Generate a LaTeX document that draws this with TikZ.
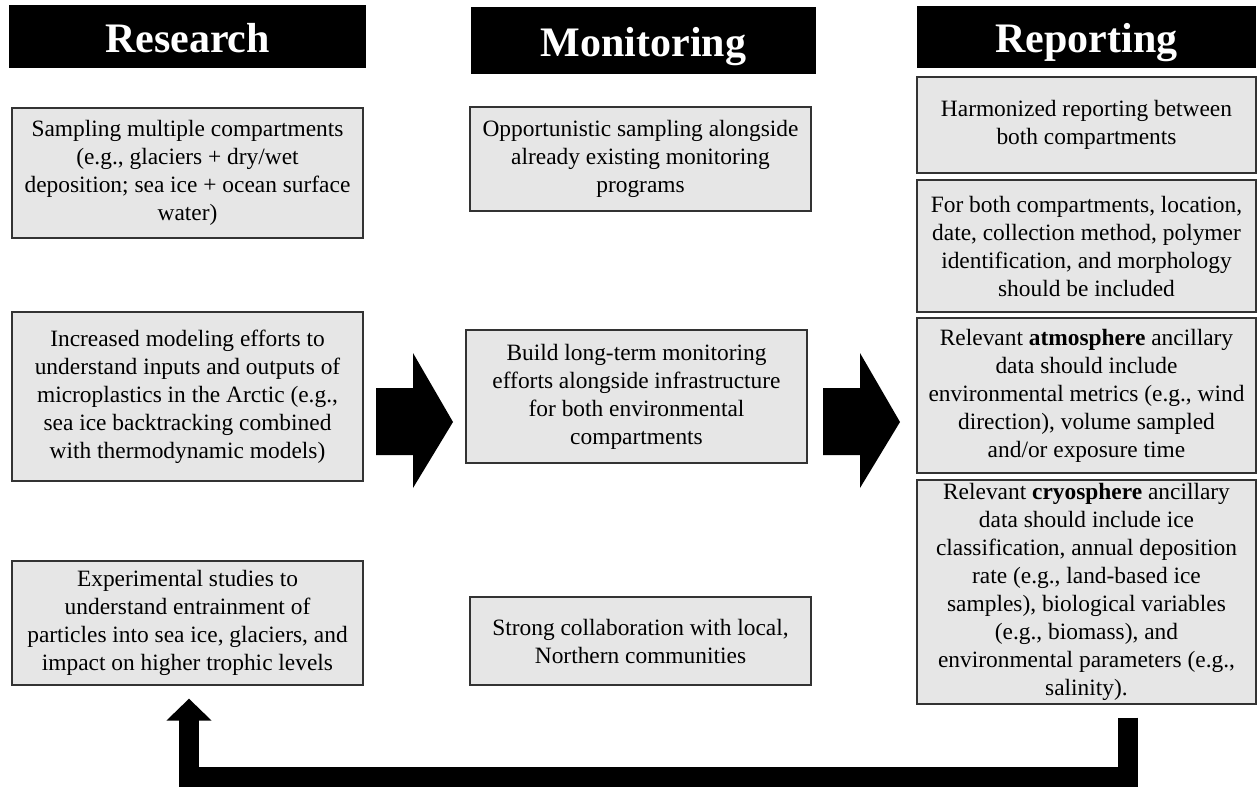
\documentclass[tikz,border=0pt]{standalone}
\usepackage{fontspec}
\setmainfont{Liberation Serif}
\usetikzlibrary{arrows.meta}
\definecolor{BoxGray}{HTML}{E6E6E6}
\definecolor{EdgeGray}{HTML}{333333}

\tikzset{
  header/.style={fill=black,text=white,inner sep=0pt,text height=31pt,text depth=0pt,
    font=\fontsize{42}{48}\selectfont\bfseries},
  item/.style={fill=BoxGray,draw=EdgeGray,line width=1.3pt,align=center,
    inner sep=0pt,font=\fontsize{23.4}{28}\selectfont},
  backflow/.style={draw=black,line width=20pt,line join=miter,
    -{Triangle[width=44pt,length=22pt]}}
}

\begin{document}
\begin{tikzpicture}[x=1pt,y=-1pt]
  \useasboundingbox (0,0) rectangle (1259,787);

  % column headers
  \node[header,minimum width=357pt,minimum height=63pt] (hres) at (187.5,36.5) {Research};
  \node[header,minimum width=345pt,minimum height=67pt] (hmon) at (643.5,40.5) {Monitoring};
  \node[header,minimum width=339pt,minimum height=62pt] (hrep) at (1086.5,37) {Reporting};

  % research
  \node[item,minimum width=351pt,minimum height=130pt] (res1) at (187.5,173)
    {Sampling multiple compartments\\(e.g., glaciers + dry/wet\\deposition; sea ice + ocean surface\\water)};
  \node[item,minimum width=351pt,minimum height=169pt] (res2) at (187.5,396.5)
    {Increased modeling efforts to\\understand inputs and outputs of\\microplastics in the Arctic (e.g.,\\sea ice backtracking combined\\with thermodynamic models)};
  \node[item,minimum width=351pt,minimum height=124pt] (res3) at (187.5,623)
    {Experimental studies to\\understand entrainment of\\particles into sea ice, glaciers, and\\impact on higher trophic levels};

  % monitoring
  \node[item,minimum width=341pt,minimum height=104pt] (mon1) at (640.5,159)
    {Opportunistic sampling alongside\\already existing monitoring\\programs};
  \node[item,minimum width=341pt,minimum height=133pt] (mon2) at (636.5,396.5)
    {Build long-term monitoring\\efforts alongside infrastructure\\for both environmental\\compartments};
  \node[item,minimum width=341pt,minimum height=88pt] (mon3) at (640.5,641)
    {Strong collaboration with local,\\Northern communities};

  % reporting
  \node[item,minimum width=339pt,minimum height=96pt] (rep1) at (1086.5,125)
    {Harmonized reporting between\\both compartments};
  \node[item,minimum width=339pt,minimum height=132pt] (rep2) at (1086.5,246)
    {For both compartments, location,\\date, collection method, polymer\\identification, and morphology\\should be included};
  \node[item,minimum width=339pt,minimum height=155pt] (rep3) at (1086.5,395.5)
    {Relevant \textbf{atmosphere} ancillary\\data should include\\environmental metrics (e.g., wind\\direction), volume sampled\\and/or exposure time};
  \node[item,minimum width=339pt,minimum height=224pt] (rep4) at (1086.5,592)
    {Relevant \textbf{cryosphere} ancillary\\data should include ice\\classification, annual deposition\\rate (e.g., land-based ice\\samples), biological variables\\(e.g., biomass), and\\environmental parameters (e.g.,\\salinity).};

  % block arrows between columns
  \foreach \ax in {376,823}
    \fill[black] (\ax,388) -- ++(37,0) -- ++(0,-35) -- ++(40,69) -- ++(-40,66)
      -- ++(0,-33) -- ++(-37,0) -- cycle;

  % feedback arrow
  \draw[backflow] ([xshift=41.5pt,yshift=-13pt]rep4.south) -- ++(0,59)
    -| ([xshift=1.5pt,yshift=-13pt]res3.south);
\end{tikzpicture}
\end{document}
